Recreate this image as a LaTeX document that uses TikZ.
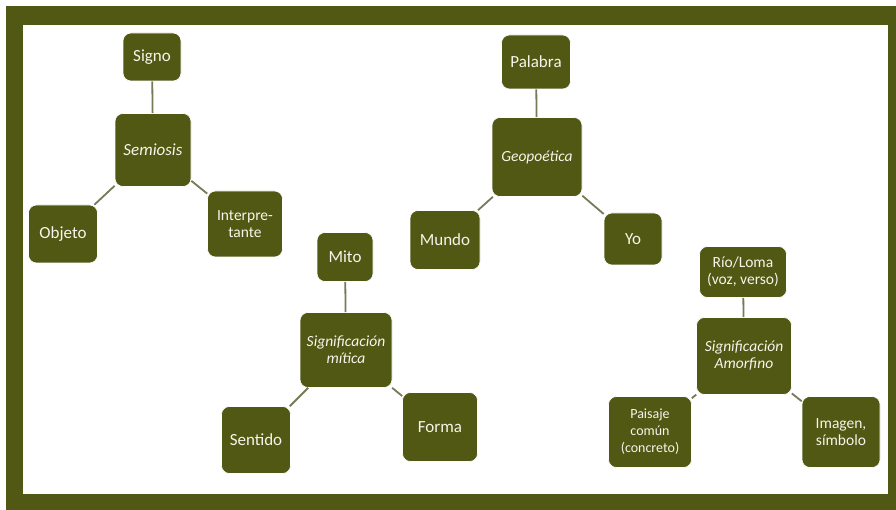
\documentclass[tikz,border=0pt]{standalone}
\usepackage{fontspec}
\setmainfont{Carlito}
\definecolor{olivo}{RGB}{80,88,20}
\definecolor{enlace}{RGB}{118,122,88}
\definecolor{letra}{RGB}{245,245,235}

\begin{document}
\begin{tikzpicture}[x=1pt, y=-1pt,
		concepto/.style={fill=olivo, draw=white, line width=0.6pt, rounded corners=8pt, text=letra,
			align=center, inner sep=0pt, font=\fontsize{17}{18}\selectfont},
		chico/.style={font=\fontsize{15.5}{17}\selectfont},
		enlace/.style={draw=enlace, line width=1.8pt}]
			% marco
			\fill[white] (0,0) rectangle (896,510);
			\useasboundingbox (0,0) rectangle (896,510);
			\fill[olivo] (6,6) rectangle (896,510);
			\fill[white] (23,25) rectangle (888,494);
			
			% Semiosis
			\node[concepto, minimum width=58pt, minimum height=48pt] (signo) at (152,57) {Signo};
			\node[concepto, minimum width=76pt, minimum height=73pt] (semiosis) at (153,150) {\itshape Semiosis};
			\node[concepto, minimum width=69pt, minimum height=58pt] (objeto) at (63,234) {Objeto};
			\node[concepto, chico, minimum width=75pt, minimum height=66pt] (interpretante) at (245,224) {Interpre-\\tante};
			
			% Significacion mitica
			\node[concepto, minimum width=56pt, minimum height=49pt] (mito) at (345,257) {Mito};
			\node[concepto, chico, minimum width=92pt, minimum height=75pt] (mitica) at (346,350) {\itshape Significación\\\itshape mítica};
			\node[concepto, minimum width=69pt, minimum height=67pt] (sentido) at (256,440) {Sentido};
			\node[concepto, minimum width=75pt, minimum height=69pt] (forma) at (440,427) {Forma};
			
			% Geopoetica
			\node[concepto, minimum width=69pt, minimum height=54pt] (palabra) at (536,62) {Palabra};
			\node[concepto, chico, minimum width=90pt, minimum height=79pt] (geopoetica) at (537,157) {\itshape Geopoética};
			\node[concepto, minimum width=70pt, minimum height=59pt] (mundo) at (445,240) {Mundo};
			\node[concepto, minimum width=58pt, minimum height=52pt] (yo) at (633,239) {Yo};
			
			% Significacion Amorfino
			\node[concepto, chico, minimum width=87pt, minimum height=51pt] (rio) at (743,272) {Río/Loma\\(voz, verso)};
			\node[concepto, chico, minimum width=95pt, minimum height=77pt] (amorfino) at (744,356) {\itshape Significación\\\itshape Amorfino};
			\node[concepto, font=\fontsize{14}{17}\selectfont, minimum width=83pt, minimum height=71pt] (paisaje) at (650,432) {Paisaje\\común\\(concreto)};
			\node[concepto, chico, minimum width=78pt, minimum height=71pt] (imagen) at (841,432) {Imagen,\\símbolo};
			
			\draw[enlace] (signo) -- (semiosis);
			\draw[enlace] (semiosis) -- (objeto);
			\draw[enlace] (semiosis) -- (interpretante);
			\draw[enlace] (mito) -- (mitica);
			\draw[enlace] (mitica) -- (sentido);
			\draw[enlace] (mitica) -- (forma);
			\draw[enlace] (palabra) -- (geopoetica);
			\draw[enlace] (geopoetica) -- (mundo);
			\draw[enlace] (geopoetica) -- (yo);
			\draw[enlace] (rio) -- (amorfino);
			\draw[enlace] (amorfino) -- (paisaje);
			\draw[enlace] (amorfino) -- (imagen);
		\end{tikzpicture}
\end{document}
